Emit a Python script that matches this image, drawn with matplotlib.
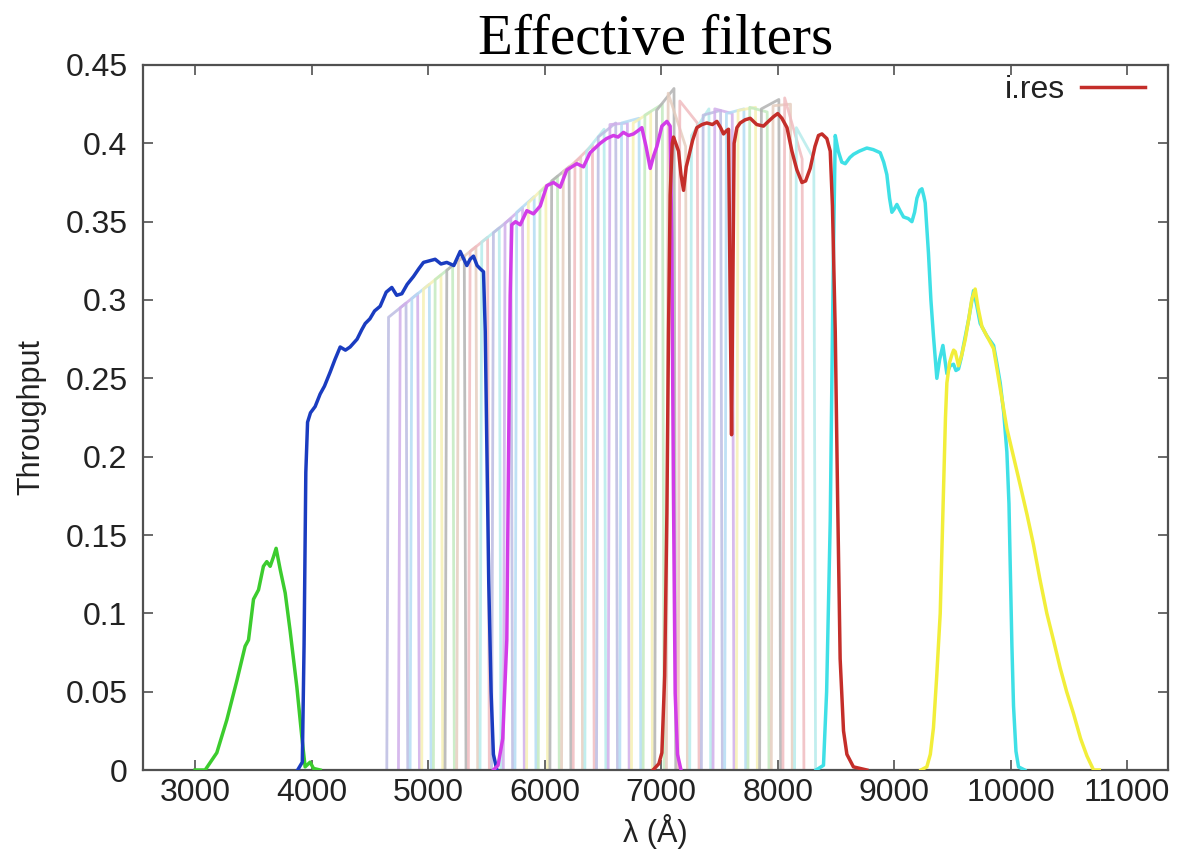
import matplotlib
matplotlib.use("Agg")
import matplotlib.pyplot as plt
import numpy as np

# ---------------- data ----------------
u_wave = [3000, 3086, 3186, 3272, 3358, 3429, 3458, 3501, 3544, 3586, 3615, 3644, 3672, 3695,
          3730, 3773, 3815, 3873, 3916, 3944, 3987, 4016, 4073]
u_thr = [0.0, 0.0, 0.011, 0.032, 0.057, 0.079, 0.083, 0.109, 0.115, 0.130, 0.133, 0.130, 0.136,
         0.1415, 0.128, 0.113, 0.089, 0.053, 0.021, 0.002, 0.005, 0.001, 0.0]

g_wave = [3880, 3920, 3935, 3950, 3965, 3990, 4030, 4073, 4110, 4159, 4200, 4245, 4290, 4330,
          4390, 4430, 4460, 4500, 4540, 4588, 4640, 4688, 4730, 4774, 4820, 4874, 4920, 4960,
          5010, 5060, 5110, 5160, 5220, 5275, 5300, 5332, 5360, 5389, 5420, 5446, 5475, 5490,
          5504, 5520, 5540, 5560, 5590]
g_thr = [0.0, 0.005, 0.08, 0.19, 0.222, 0.228, 0.232, 0.240, 0.245, 0.254, 0.262, 0.270, 0.268,
         0.270, 0.275, 0.281, 0.285, 0.288, 0.293, 0.296, 0.305, 0.308, 0.303, 0.304, 0.310,
         0.315, 0.320, 0.324, 0.325, 0.326, 0.323, 0.324, 0.322, 0.331, 0.327, 0.322, 0.326,
         0.328, 0.322, 0.320, 0.318, 0.28, 0.205, 0.12, 0.05, 0.01, 0.0]

r_wave = [5560, 5600, 5640, 5675, 5690, 5704, 5718, 5750, 5790, 5847, 5904, 5962, 6019, 6076,
          6133, 6190, 6276, 6333, 6390, 6476, 6530, 6590, 6630, 6676, 6720, 6762, 6800, 6834,
          6870, 6906, 6935, 6963, 7006, 7049, 7077, 7091, 7105, 7120, 7140, 7170]
r_thr = [0.0, 0.003, 0.02, 0.083, 0.2, 0.303, 0.348, 0.350, 0.348, 0.357, 0.355, 0.360, 0.373,
         0.375, 0.372, 0.383, 0.387, 0.385, 0.394, 0.400, 0.403, 0.405, 0.404, 0.407, 0.405,
         0.406, 0.408, 0.410, 0.398, 0.384, 0.392, 0.398, 0.411, 0.414, 0.411, 0.338, 0.18,
         0.049, 0.01, 0.0]

i_wave = [6930, 6980, 7006, 7030, 7049, 7063, 7077, 7095, 7106, 7149, 7170, 7192, 7215, 7235,
          7270, 7306, 7350, 7392, 7440, 7478, 7510, 7535, 7560, 7578, 7592, 7604, 7614, 7626,
          7650, 7678, 7720, 7764, 7820, 7878, 7920, 7964, 8000, 8036, 8080, 8122, 8165, 8208,
          8240, 8279, 8320, 8350, 8380, 8422, 8451, 8470, 8494, 8515, 8536, 8565, 8594, 8650,
          8765]
i_thr = [0.0, 0.004, 0.011, 0.06, 0.164, 0.28, 0.367, 0.400, 0.404, 0.395, 0.38, 0.370, 0.385,
         0.391, 0.402, 0.410, 0.412, 0.413, 0.412, 0.414, 0.410, 0.406, 0.408, 0.409, 0.30,
         0.214, 0.30, 0.40, 0.410, 0.413, 0.415, 0.416, 0.412, 0.411, 0.414, 0.417, 0.419,
         0.416, 0.410, 0.395, 0.383, 0.375, 0.376, 0.384, 0.398, 0.405, 0.406, 0.403, 0.395,
         0.36, 0.28, 0.17, 0.071, 0.025, 0.010, 0.002, 0.0]

z_wave = [8330, 8393, 8420, 8451, 8470, 8480, 8494, 8520, 8550, 8580, 8620, 8651, 8700, 8765,
          8820, 8880, 8910, 8937, 8960, 8980, 9000, 9023, 9050, 9080, 9120, 9152, 9175, 9195,
          9220, 9238, 9255, 9266, 9294, 9315, 9337, 9366, 9390, 9418, 9435, 9452, 9480, 9509,
          9530, 9552, 9575, 9595, 9640, 9681, 9710, 9738, 9796, 9853, 9880, 9910, 9940, 9967,
          9985, 9996, 10010, 10024, 10045, 10067, 10120]
z_thr = [0.0, 0.003, 0.05, 0.159, 0.28, 0.336, 0.405, 0.395, 0.388, 0.387, 0.391, 0.393, 0.395,
         0.397, 0.396, 0.394, 0.388, 0.380, 0.365, 0.356, 0.358, 0.361, 0.357, 0.353, 0.352,
         0.350, 0.356, 0.365, 0.370, 0.371, 0.366, 0.362, 0.330, 0.30, 0.277, 0.250, 0.262,
         0.271, 0.262, 0.253, 0.258, 0.259, 0.255, 0.256, 0.263, 0.271, 0.288, 0.306, 0.296,
         0.285, 0.277, 0.271, 0.26, 0.247, 0.228, 0.203, 0.17, 0.13, 0.08, 0.041, 0.012,
         0.002, 0.0]

y_wave = [9230, 9280, 9310, 9337, 9365, 9395, 9420, 9440, 9452, 9475, 9495, 9510, 9524, 9552,
          9580, 9610, 9640, 9665, 9695, 9720, 9753, 9781, 9810, 9853, 9900, 9967, 10024, 10081,
          10140, 10195, 10250, 10310, 10370, 10425, 10480, 10539, 10600, 10654, 10711, 10760]
y_thr = [0.0, 0.002, 0.01, 0.027, 0.06, 0.1, 0.17, 0.225, 0.247, 0.260, 0.265, 0.268, 0.267,
         0.258, 0.265, 0.275, 0.288, 0.300, 0.307, 0.295, 0.283, 0.279, 0.275, 0.269, 0.248,
         0.218, 0.200, 0.182, 0.163, 0.144, 0.122, 0.100, 0.082, 0.065, 0.050, 0.036, 0.02,
         0.009, 0.0, 0.0]

# narrow-band filters: lower / upper edges (Angstrom) and top throughput at each edge
nb_lo = [4660, 4760, 4860, 4960, 5060, 5160, 5260, 5360, 5460, 5560, 5660, 5760, 5860, 5960,
         6060, 6160, 6260, 6360, 6460, 6560, 6660, 6760, 6860, 6960, 7060, 7160, 7260, 7360,
         7460, 7560, 7660, 7760, 7860, 7960, 8060, 8160]
nb_hi = [4810, 4910, 5010, 5110, 5210, 5310, 5410, 5510, 5610, 5710, 5810, 5910, 6010, 6110,
         6210, 6310, 6410, 6510, 6610, 6710, 6810, 6910, 7010, 7110, 7210, 7310, 7410, 7510,
         7610, 7710, 7810, 7910, 8010, 8110, 8210, 8310]
nb_top_lo = [0.289, 0.295, 0.301, 0.307, 0.313, 0.319, 0.325, 0.331, 0.337, 0.343, 0.349, 0.356,
             0.362, 0.369, 0.376, 0.382, 0.388, 0.395, 0.404, 0.412, 0.413, 0.413, 0.418, 0.421,
             0.432, 0.427, 0.405, 0.418, 0.422, 0.419, 0.421, 0.423, 0.422, 0.424, 0.429, 0.410]
nb_top_hi = [0.298, 0.304, 0.310, 0.316, 0.322, 0.328, 0.334, 0.340, 0.346, 0.352, 0.359, 0.366,
             0.373, 0.379, 0.385, 0.391, 0.399, 0.409, 0.413, 0.413, 0.416, 0.420, 0.425, 0.435,
             0.398, 0.413, 0.422, 0.421, 0.419, 0.422, 0.423, 0.420, 0.428, 0.425, 0.390, 0.390]

x_ticks = [3000, 4000, 5000, 6000, 7000, 8000, 9000, 10000, 11000]
y_ticks = [0, 0.05, 0.1, 0.15, 0.2, 0.25, 0.3, 0.35, 0.4, 0.45]
y_ticklabels = ["0", "0.05", "0.1", "0.15", "0.2", "0.25", "0.3", "0.35", "0.4", "0.45"]

# ---------------- styling ----------------
plt.rcParams['font.family'] = ['Liberation Sans', 'DejaVu Sans']
nb_colors = ['#bcbce2', '#d0aeea', '#b4dcf4', '#f6f0b4', '#c4eac0', '#b2b2b2', '#e6cec0',
             '#f0bcc0', '#b6ecec']
edge = 15  # slope width of narrow band edges (Angstrom)

fig = plt.figure(figsize=(11.82, 8.49), dpi=100)
ax = fig.add_axes([0.12073, 0.09305, 0.86743, 0.83039])

for k in range(len(nb_lo)):
    ax.plot([nb_lo[k] - edge, nb_lo[k], nb_hi[k], nb_hi[k] + edge],
            [0, nb_top_lo[k], nb_top_hi[k], 0],
            color=nb_colors[k % len(nb_colors)], lw=2.0, zorder=1, alpha=0.85,
            solid_joinstyle='round')

lw = 2.5
ax.plot(u_wave, u_thr, color='#3ccc2e', lw=lw, zorder=3)
ax.plot(g_wave, g_thr, color='#1a3cc0', lw=lw, zorder=3)
ax.plot(r_wave, r_thr, color='#d23ce8', lw=lw, zorder=3)
ax.plot(z_wave, z_thr, color='#3fe0e6', lw=lw, zorder=3)
ax.plot(y_wave, y_thr, color='#f2ee3a', lw=lw, zorder=3)
ax.plot(i_wave, i_thr, color='#c42e2a', lw=lw, zorder=4, label='i.res')

ax.set_xlim(2550, 11350)
ax.set_ylim(0, 0.45)
ax.set_xticks(x_ticks)
ax.set_xticklabels([str(t) for t in x_ticks])
ax.set_yticks(y_ticks)
ax.set_yticklabels(y_ticklabels)

frame_col = '#505050'
for s in ax.spines.values():
    s.set_color(frame_col)
    s.set_linewidth(1.6)
ax.tick_params(direction='in', length=7, width=1.2, color=frame_col, top=True, right=True,
               labelsize=23, labelcolor='#222222')
ax.tick_params(axis='x', pad=6)
ax.tick_params(axis='y', pad=11)

ax.set_ylabel('Throughput', fontsize=22, color='#222222')
ax.yaxis.set_label_coords(-0.094, 0.5)
ax.set_xlabel('λ (Å)', fontsize=22, color='#222222')
ax.xaxis.set_label_coords(0.5, -0.062)

ax.set_title('Effective filters', fontsize=41, family=['Liberation Serif', 'DejaVu Serif'],
             pad=8)

leg = ax.legend(loc='center right', bbox_to_anchor=(1145 / 1182, 1 - 90 / 849),
                bbox_transform=fig.transFigure, frameon=False, markerfirst=False,
                handlelength=2.0, handletextpad=0.5, borderpad=0, borderaxespad=0,
                fontsize=23)
for t in leg.get_texts():
    t.set_color('#222222')

fig.savefig('out.png', dpi=100)
